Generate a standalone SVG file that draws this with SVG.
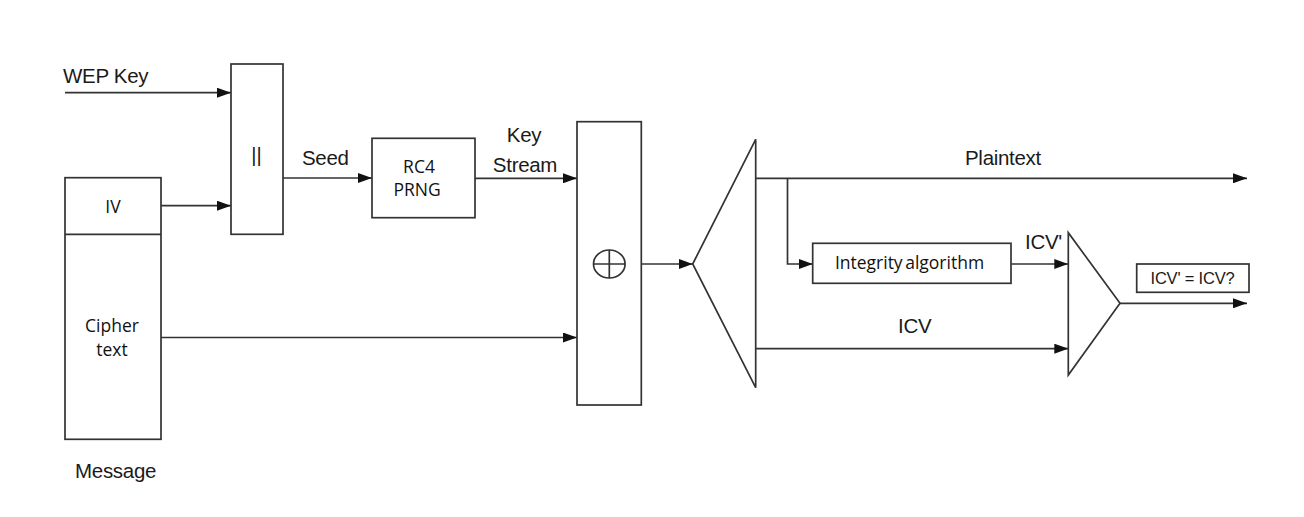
<svg xmlns="http://www.w3.org/2000/svg" width="1304" height="517" viewBox="0 0 1304 517">
<style>
.box{fill:#fff;stroke:#333;stroke-width:1.7}
.ln{fill:none;stroke:#333;stroke-width:1.7}
.arr{marker-end:url(#ah)}
.lbl{font-family:"Liberation Sans",Arial,sans-serif;font-size:20.5px;fill:#1a1a1a;letter-spacing:-0.3px}
.in{font-family:"Open Sans","Noto Sans",sans-serif;font-size:17.5px;fill:#111;text-anchor:middle}
</style>
<defs>
<marker id="ah" markerUnits="userSpaceOnUse" markerWidth="14" markerHeight="10" refX="14" refY="5" orient="auto">
<path d="M0,0 L14,5 L0,10 z" fill="#111"/>
</marker>
</defs>
<rect width="1304" height="517" fill="#fff"/>
<g id="connectors">
<line class="ln arr" x1="65" y1="92.7" x2="231" y2="92.7"/>
<line class="ln arr" x1="161" y1="205.7" x2="231" y2="205.7"/>
<line class="ln arr" x1="283" y1="178" x2="372" y2="178"/>
<line class="ln arr" x1="475" y1="178.3" x2="577" y2="178.3"/>
<line class="ln arr" x1="161" y1="337.5" x2="577" y2="337.5"/>
<line class="ln arr" x1="641" y1="264" x2="692.7" y2="264"/>
<line class="ln arr" x1="755.7" y1="178.3" x2="1247" y2="178.3"/>
<polyline class="ln arr" points="787.5,178.3 787.5,264 812.7,264"/>
<line class="ln arr" x1="1011" y1="264" x2="1068.3" y2="264"/>
<line class="ln arr" x1="755.7" y1="348.7" x2="1068.3" y2="348.7"/>
<line class="ln arr" x1="1120" y1="303.3" x2="1247" y2="303.3"/>
</g>
<g id="wepkey"><text class="lbl" x="63" y="83">WEP Key</text></g>
<g id="message">
<rect class="box" x="65" y="177.7" width="96" height="261.6"/>
<line class="ln" x1="65" y1="234.3" x2="161" y2="234.3"/>
<text class="in" x="113" y="213">IV</text>
<text class="in" x="112" y="332" font-size="18">Cipher</text>
<text class="in" x="112" y="355.5" font-size="18">text</text>
<text class="lbl" x="75" y="478">Message</text>
</g>
<g id="concat">
<rect class="box" x="231" y="64" width="52" height="170.3"/>
<text x="256.5" y="162" font-family="'Liberation Sans',Arial,sans-serif" font-size="20" fill="#1a1a1a" text-anchor="middle">||</text>
</g>
<g id="seed-label"><text class="lbl" x="302" y="165">Seed</text></g>
<g id="rc4">
<rect class="box" x="372" y="138.3" width="103" height="79.4"/>
<text class="in" x="419" y="173" font-size="17">RC4</text>
<text class="in" x="417" y="196" font-size="17">PRNG</text>
</g>
<g id="keystream-label">
<text class="lbl" x="524" y="141.7" text-anchor="middle">Key</text>
<text class="lbl" x="525" y="171.7" text-anchor="middle">Stream</text>
</g>
<g id="xor">
<rect class="box" x="577" y="121.7" width="64.3" height="283.3"/>
<ellipse class="ln" cx="609.3" cy="264" rx="15.8" ry="14"/>
<line class="ln" x1="593.5" y1="264" x2="625.1" y2="264"/>
<line class="ln" x1="609.3" y1="250" x2="609.3" y2="278"/>
</g>
<g id="demux">
<polygon class="box" points="692.7,264 755.7,139.3 755.7,387.7"/>
</g>
<g id="plaintext-label"><text class="lbl" x="965" y="165">Plaintext</text></g>
<g id="integrity">
<rect class="box" x="812.7" y="243.3" width="198.3" height="40"/>
<text class="in" x="909.5" y="269" font-size="18" word-spacing="-2">Integrity algorithm</text>
</g>
<g id="icvprime-label"><text class="lbl" x="1025" y="249.3">ICV'</text></g>
<g id="icv-label"><text class="lbl" x="898" y="332.7">ICV</text></g>
<g id="compare">
<polygon class="box" points="1068.3,232.7 1068.3,375 1120,303.3"/>
</g>
<g id="result">
<rect class="box" x="1136.7" y="264" width="112.3" height="28.3"/>
<text x="1192.5" y="284" font-family="'Liberation Sans',Arial,sans-serif" font-size="16.5" fill="#1a1a1a" text-anchor="middle" letter-spacing="-0.2">ICV' = ICV?</text>
</g>
</svg>
